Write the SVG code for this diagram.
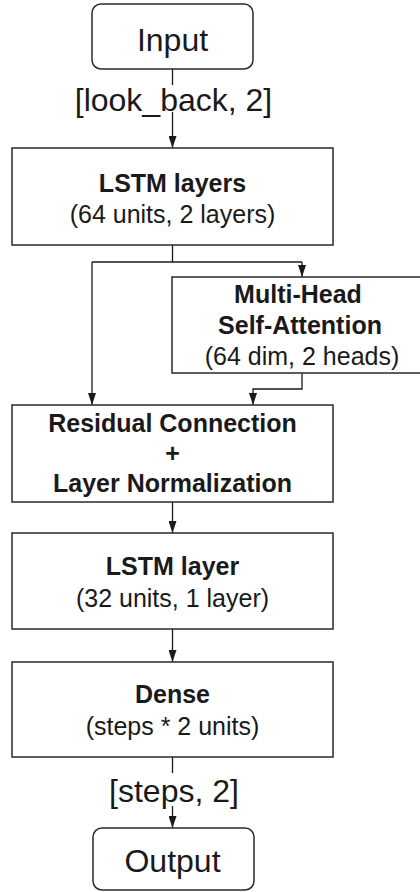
<svg xmlns="http://www.w3.org/2000/svg" width="420" height="892" viewBox="0 0 420 892">
<defs>
<marker id="arr" markerWidth="8" markerHeight="12" refX="7.5" refY="4" orient="auto" markerUnits="userSpaceOnUse" viewBox="0 0 8 12">
<path d="M0,0 L8,4 L0,8 Z" fill="#1a1a1a"/>
</marker>
<marker id="ah" viewBox="0 0 12 8" refX="12" refY="4" markerWidth="12" markerHeight="8" orient="auto" markerUnits="userSpaceOnUse">
<path d="M0,0 L12,4 L0,8 Z" fill="#1a1a1a"/>
</marker>
</defs>
<style>
.box{fill:#fff;stroke:#2a2a2a;stroke-width:1.5}
.t{font-family:"Liberation Sans",Arial,sans-serif;fill:#1a1a1a;text-anchor:middle}
.b{font-weight:bold;font-size:25px}
.n{font-size:25px}
.big{font-size:32px}
.edge{fill:none;stroke:#1a1a1a;stroke-width:1.3;marker-end:url(#ah)}
.ln{fill:none;stroke:#1a1a1a;stroke-width:1.3}
</style>
<rect width="420" height="892" fill="#fff"/>
<g id="connectors">
<path class="edge" d="M172.5,69 V148"/>
<path class="ln" d="M172.5,245 V262 M92,262 H302"/>
<path class="edge" d="M92,262 V405"/>
<path class="edge" d="M302,262 V277"/>
<path class="edge" d="M302,373 V389 H253 V405"/>
<path class="edge" d="M172.5,502 V533"/>
<path class="edge" d="M172.5,629 V662"/>
<path class="edge" d="M172.5,757 V828"/>
</g>
<g id="label-lookback">
<rect x="74" y="85" width="200" height="27" fill="#fff"/>
<text class="t big" x="173.5" y="111">[look_back, 2]</text>
</g>
<g id="label-steps">
<rect x="108" y="773" width="132" height="33" fill="#fff"/>
<text class="t big" x="174" y="802">[steps, 2]</text>
</g>
<g id="input">
<rect class="box" x="92" y="4" width="161" height="65" rx="9"/>
<text class="t big" x="172.5" y="51">Input</text>
</g>
<g id="lstm1">
<rect class="box" x="12" y="148" width="321" height="97"/>
<text class="t b" x="172.5" y="192">LSTM layers</text>
<text class="t n" x="172.5" y="223">(64 units, 2 layers)</text>
</g>
<g id="attention">
<rect class="box" x="172" y="277" width="262" height="96"/>
<text class="t b" x="298" y="303">Multi-Head</text>
<text class="t b" x="300" y="334">Self-Attention</text>
<text class="t n" x="302" y="365">(64 dim, 2 heads)</text>
</g>
<g id="residual">
<rect class="box" x="12" y="405" width="321" height="97"/>
<text class="t b" x="172.5" y="432">Residual Connection</text>
<text class="t b" x="172.5" y="462">+</text>
<text class="t b" x="172.5" y="492">Layer Normalization</text>
</g>
<g id="lstm2">
<rect class="box" x="12" y="533" width="321" height="96"/>
<text class="t b" x="172.5" y="575">LSTM layer</text>
<text class="t n" x="172.5" y="607">(32 units, 1 layer)</text>
</g>
<g id="dense">
<rect class="box" x="12" y="662" width="321" height="95"/>
<text class="t b" x="172.5" y="703">Dense</text>
<text class="t n" x="172.5" y="735">(steps * 2 units)</text>
</g>
<g id="output">
<rect class="box" x="93" y="828" width="161" height="62" rx="9"/>
<text class="t big" x="172.5" y="872">Output</text>
</g>
</svg>
